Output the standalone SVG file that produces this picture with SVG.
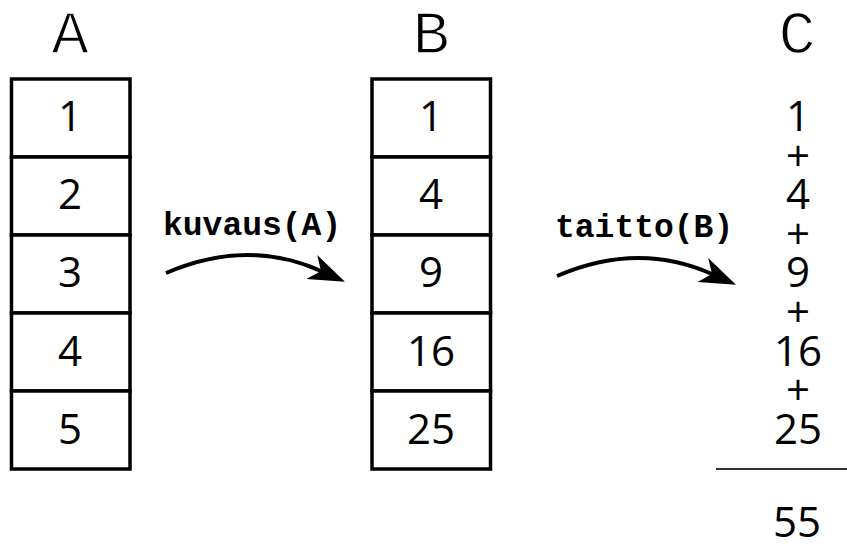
<svg xmlns="http://www.w3.org/2000/svg" width="847" height="546" viewBox="0 0 847 546">
<style>
.hdr{font-family:"Liberation Mono","Courier New",monospace;font-size:62px;fill:#000;text-anchor:middle;stroke:#fff;stroke-width:1.4px}
.num{font-family:"Open Sans","DejaVu Sans",sans-serif;font-size:42px;fill:#000;text-anchor:middle}
.cell{fill:#fff;stroke:#000;stroke-width:3.5}
.fn{font-family:"Liberation Mono","Courier New",monospace;font-weight:bold;font-size:33px;fill:#000}
.arr{fill:none;stroke:#000;stroke-width:4}
</style>
<defs>
<marker id="ah" markerUnits="userSpaceOnUse" markerWidth="40" markerHeight="30" viewBox="0 -12 32 24" refX="8" refY="0" orient="auto">
<path d="M29,0 L0,-10.5 L8,0 L0,10.5 Z" fill="#000"/>
</marker>
</defs>
<g id="colA">
<text class="hdr" x="70" y="53">A</text>
<rect class="cell" x="11.5" y="79" width="118.5" height="78"/>
<rect class="cell" x="11.5" y="157" width="118.5" height="78"/>
<rect class="cell" x="11.5" y="235" width="118.5" height="78"/>
<rect class="cell" x="11.5" y="313" width="118.5" height="78"/>
<rect class="cell" x="11.5" y="391" width="118.5" height="78"/>
<text class="num" x="70" y="131">1</text>
<text class="num" x="70" y="209">2</text>
<text class="num" x="70" y="287">3</text>
<text class="num" x="70" y="366">4</text>
<text class="num" x="70" y="444">5</text>
</g>
<g id="colB">
<text class="hdr" x="431" y="53">B</text>
<rect class="cell" x="372" y="79" width="118.5" height="78"/>
<rect class="cell" x="372" y="157" width="118.5" height="78"/>
<rect class="cell" x="372" y="235" width="118.5" height="78"/>
<rect class="cell" x="372" y="313" width="118.5" height="78"/>
<rect class="cell" x="372" y="391" width="118.5" height="78"/>
<text class="num" x="431" y="131">1</text>
<text class="num" x="431" y="209">4</text>
<text class="num" x="431" y="287">9</text>
<text class="num" x="431" y="366">16</text>
<text class="num" x="431" y="444">25</text>
</g>
<g id="colC">
<text class="hdr" x="797" y="53">C</text>
<text class="num" x="798" y="131">1</text>
<text class="num" x="798" y="171">+</text>
<text class="num" x="798" y="209">4</text>
<text class="num" x="798" y="249">+</text>
<text class="num" x="798" y="287">9</text>
<text class="num" x="798" y="327">+</text>
<text class="num" x="798" y="366">16</text>
<text class="num" x="798" y="405">+</text>
<text class="num" x="798" y="444">25</text>
<line x1="716" y1="469" x2="847" y2="469" stroke="#333" stroke-width="2"/>
<text class="num" x="797" y="537">55</text>
</g>
<g id="connectors">
<path class="arr" d="M166,273 Q247,238 321,271" marker-end="url(#ah)"/>
<text class="fn" x="163" y="235">kuvaus(A)</text>
<path class="arr" d="M557,276 Q638,241 712,274" marker-end="url(#ah)"/>
<text class="fn" x="555" y="237">taitto(B)</text>
</g>
</svg>
